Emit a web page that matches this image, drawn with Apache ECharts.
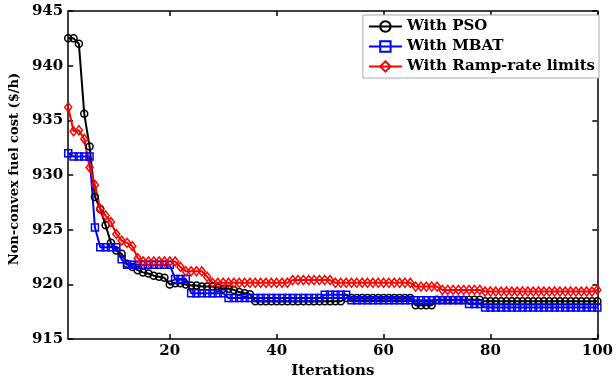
<!DOCTYPE html>
<html><head><meta charset="utf-8">
<script src="https://cdn.jsdelivr.net/npm/echarts@6/dist/echarts.min.js"></script>
<style>html,body{margin:0;padding:0;background:#fff}#c{width:616px;height:384px}</style>
</head><body><div id="c"></div>
<script>
const seriesNames = ['With PSO', 'With MBAT', 'With Ramp-rate limits'];
const xTicks = [20, 40, 60, 80, 100];
const pso = [
942.5,942.5,942.0,935.6,932.6,928.0,926.9,925.4,923.8,923.1,
922.8,921.9,921.6,921.3,921.1,921.0,920.8,920.7,920.6,920.0,
920.1,920.1,920.0,919.9,919.9,919.8,919.8,919.8,919.7,919.6,
919.6,919.5,919.3,919.2,919.1,918.45,918.45,918.45,918.45,918.45,
918.45,918.45,918.45,918.45,918.45,918.45,918.45,918.45,918.45,918.45,
918.45,918.45,918.75,918.75,918.75,918.75,918.75,918.75,918.75,918.75,
918.75,918.75,918.75,918.75,918.75,918.1,918.1,918.1,918.1,918.6,
918.6,918.6,918.6,918.6,918.6,918.6,918.6,918.6,918.45,918.45,
918.45,918.45,918.45,918.45,918.45,918.45,918.45,918.45,918.45,918.45,
918.45,918.45,918.45,918.45,918.45,918.45,918.45,918.45,918.45,918.45
];
const mbat = [
932.0,931.7,931.7,931.7,931.7,925.2,923.4,923.4,923.4,923.4,
922.3,921.8,921.8,921.8,921.8,921.8,921.8,921.8,921.8,921.8,
920.5,920.5,920.5,919.2,919.2,919.2,919.2,919.2,919.2,919.2,
918.75,918.75,918.75,918.75,918.75,918.75,918.75,918.75,918.75,918.75,
918.75,918.75,918.75,918.75,918.75,918.75,918.75,918.75,919.05,919.05,
919.05,919.05,919.05,918.55,918.55,918.55,918.55,918.55,918.55,918.55,
918.55,918.55,918.55,918.55,918.55,918.55,918.55,918.55,918.55,918.55,
918.55,918.55,918.55,918.55,918.55,918.2,918.2,918.2,917.9,917.9,
917.9,917.9,917.9,917.9,917.9,917.9,917.9,917.9,917.9,917.9,
917.9,917.9,917.9,917.9,917.9,917.9,917.9,917.9,917.9,917.9
];
const ramp = [
936.2,934.0,934.1,933.3,930.7,929.1,926.9,926.3,925.7,924.6,
924.0,923.8,923.5,922.4,922.1,922.1,922.1,922.1,922.1,922.1,
922.1,921.6,921.2,921.2,921.2,921.2,920.7,920.15,920.15,920.15,
920.15,920.15,920.15,920.15,920.15,920.15,920.15,920.15,920.15,920.15,
920.15,920.15,920.4,920.4,920.4,920.4,920.4,920.4,920.4,920.4,
920.15,920.15,920.15,920.15,920.15,920.15,920.15,920.15,920.15,920.15,
920.15,920.15,920.15,920.15,920.15,919.8,919.8,919.8,919.8,919.8,
919.5,919.5,919.5,919.5,919.5,919.5,919.5,919.5,919.35,919.35,
919.35,919.35,919.35,919.35,919.35,919.35,919.35,919.35,919.35,919.35,
919.35,919.35,919.35,919.35,919.35,919.35,919.35,919.35,919.35,919.5
];
const iterations = pso.map((_, i) => i + 1);
const pair = arr => arr.map((v, i) => [iterations[i], v]);

const FONT = 'DejaVu Serif';
const chart = echarts.init(document.getElementById('c'), null, {renderer: 'canvas'});
const axisLine = {show: true, onZero: false, lineStyle: {color: '#000', width: 1.5}};
const mk = (name, data, color, symbol, size) => ({
  name, type: 'line', data: pair(data), symbol, symbolSize: size,
  showSymbol: true, animation: false,
  lineStyle: {color, width: 2},
  itemStyle: {color: 'rgba(255,255,255,0)', borderColor: color, borderWidth: 1.5},
  emphasis: {disabled: true}
});
chart.setOption({
  animation: false,
  backgroundColor: '#fff',
  grid: {left: 68, right: 17, top: 11, bottom: 37},
  legend: {
    orient: 'vertical', right: 17, top: 15, padding: [4, 4, 4, 5],
    itemWidth: 33, itemHeight: 13, itemGap: 5,
    backgroundColor: '#fff', borderColor: '#aaa', borderWidth: 1,
    textStyle: {fontFamily: FONT, fontWeight: 'bold', fontSize: 15, color: '#000'},
    data: seriesNames
  },
  xAxis: [{
    type: 'value', min: 1, max: 100, position: 'bottom',
    name: 'Iterations', nameLocation: 'middle', nameGap: 19,
    nameTextStyle: {fontFamily: FONT, fontWeight: 'bold', fontSize: 15, color: '#000'},
    axisLine,
    axisTick: {show: true, inside: true, length: 5, customValues: xTicks, lineStyle: {color: '#000', width: 1.5}},
    axisLabel: {customValues: xTicks, fontFamily: FONT, fontWeight: 'bold', fontSize: 15, color: '#000', margin: 5},
    splitLine: {show: false}
  }, {
    type: 'value', min: 1, max: 100, position: 'top',
    axisLine,
    axisTick: {show: true, inside: true, length: 5, customValues: xTicks, lineStyle: {color: '#000', width: 1.5}},
    axisLabel: {show: false}, splitLine: {show: false}
  }],
  yAxis: [{
    type: 'value', min: 915, max: 945, interval: 5, position: 'left',
    name: 'Non-convex fuel cost ($/h)', nameLocation: 'middle', nameGap: 41,
    nameTextStyle: {fontFamily: FONT, fontWeight: 'bold', fontSize: 13, color: '#000', padding: [0, 0, 0, 12]},
    axisLine,
    axisTick: {show: true, inside: true, length: 5, lineStyle: {color: '#000', width: 1.5}},
    axisLabel: {fontFamily: FONT, fontWeight: 'bold', fontSize: 15, color: '#000', margin: 5},
    splitLine: {show: false}
  }, {
    type: 'value', min: 915, max: 945, interval: 5, position: 'right',
    axisLine,
    axisTick: {show: true, inside: true, length: 5, lineStyle: {color: '#000', width: 1.5}},
    axisLabel: {show: false}, splitLine: {show: false}
  }],
  series: [
    mk(seriesNames[0], pso, '#000000', 'circle', 7),
    mk(seriesNames[1], mbat, '#0000ff', 'rect', 7),
    mk(seriesNames[2], ramp, '#ff0000', 'diamond', [7, 9])
  ]
});
</script></body></html>
